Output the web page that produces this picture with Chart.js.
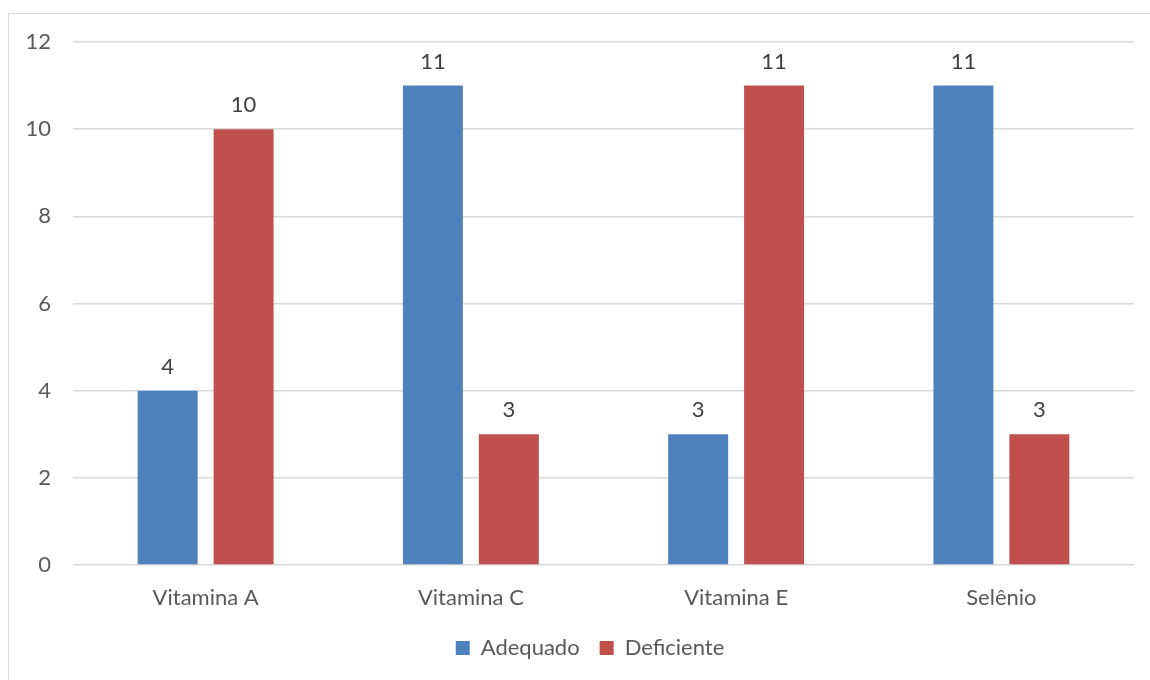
<!DOCTYPE html>
<html>
<head>
<meta charset="utf-8">
<script src="https://cdn.jsdelivr.net/npm/chart.js@4.4.1/dist/chart.umd.min.js"></script>
<style>
  html, body { margin: 0; padding: 0; background: #fff; overflow: hidden; }
  #frame { position: absolute; left: 8px; top: 13px; width: 1160px; height: 700px; border: 1.5px solid #d9d9d9; box-sizing: border-box; }
  #c { position: absolute; left: 0; top: 0; }
</style>
</head>
<body>
<div id="frame"></div>
<canvas id="c" width="1150" height="680"></canvas>
<script>
const categories = ['Vitamina A', 'Vitamina C', 'Vitamina E', 'Selênio'];
const adequado = [4, 11, 3, 11];
const deficiente = [10, 3, 11, 3];
const seriesNames = ['Adequado', 'Deficiente'];
const yTicks = [0, 2, 4, 6, 8, 10, 12];

const FONT = 'Lato, "Open Sans", sans-serif';
const TXT = '#595959';
const FS = 22;

const valueLabels = {
  id: 'valueLabels',
  afterLayout(chart) {
    if (chart.legend) { chart.legend.left += 23; chart.legend.right += 23; }
  },
  afterDatasetsDraw(chart) {
    const ctx = chart.ctx;
    ctx.save();
    ctx.font = FS + 'px ' + FONT;
    ctx.fillStyle = '#404040';
    ctx.textAlign = 'center';
    ctx.textBaseline = 'alphabetic';
    chart.data.datasets.forEach((ds, di) => {
      const meta = chart.getDatasetMeta(di);
      meta.data.forEach((bar, i) => {
        ctx.fillText(String(ds.data[i]), bar.x, bar.y - 17);
      });
    });
    ctx.restore();
  }
};

new Chart(document.getElementById('c'), {
  type: 'bar',
  data: {
    labels: categories,
    datasets: [
      { label: seriesNames[0], data: adequado, backgroundColor: '#4F81BD' },
      { label: seriesNames[1], data: deficiente, backgroundColor: '#C0504D' }
    ]
  },
  options: {
    responsive: false,
    animation: false,
    devicePixelRatio: 1,
    layout: { padding: { left: 0, right: 16, top: 42, bottom: 11 } },
    datasets: { bar: { categoryPercentage: 0.5725, barPercentage: 0.79 } },
    plugins: {
      legend: {
        position: 'bottom',
        labels: {
          font: { family: FONT, size: FS },
          color: TXT,
          boxWidth: 14,
          boxHeight: 14,
          padding: 20
        }
      },
      tooltip: { enabled: false },
      title: { display: false }
    },
    scales: {
      x: {
        grid: { display: false, drawTicks: false },
        border: { display: false },
        ticks: { font: { family: FONT, size: FS }, color: TXT, padding: 20 },
        afterFit(s) { s.height = 52; }
      },
      y: {
        min: 0, max: 12,
        afterBuildTicks(s) { s.ticks = yTicks.map(v => ({ value: v })); },
        grid: { color: '#d9d9d9', lineWidth: 1.5, drawTicks: false },
        border: { display: false },
        ticks: { font: { family: FONT, size: FS }, color: TXT, padding: 22 },
        afterFit(s) { s.width = 73; }
      }
    }
  },
  plugins: [valueLabels]
});
</script>
</body>
</html>
